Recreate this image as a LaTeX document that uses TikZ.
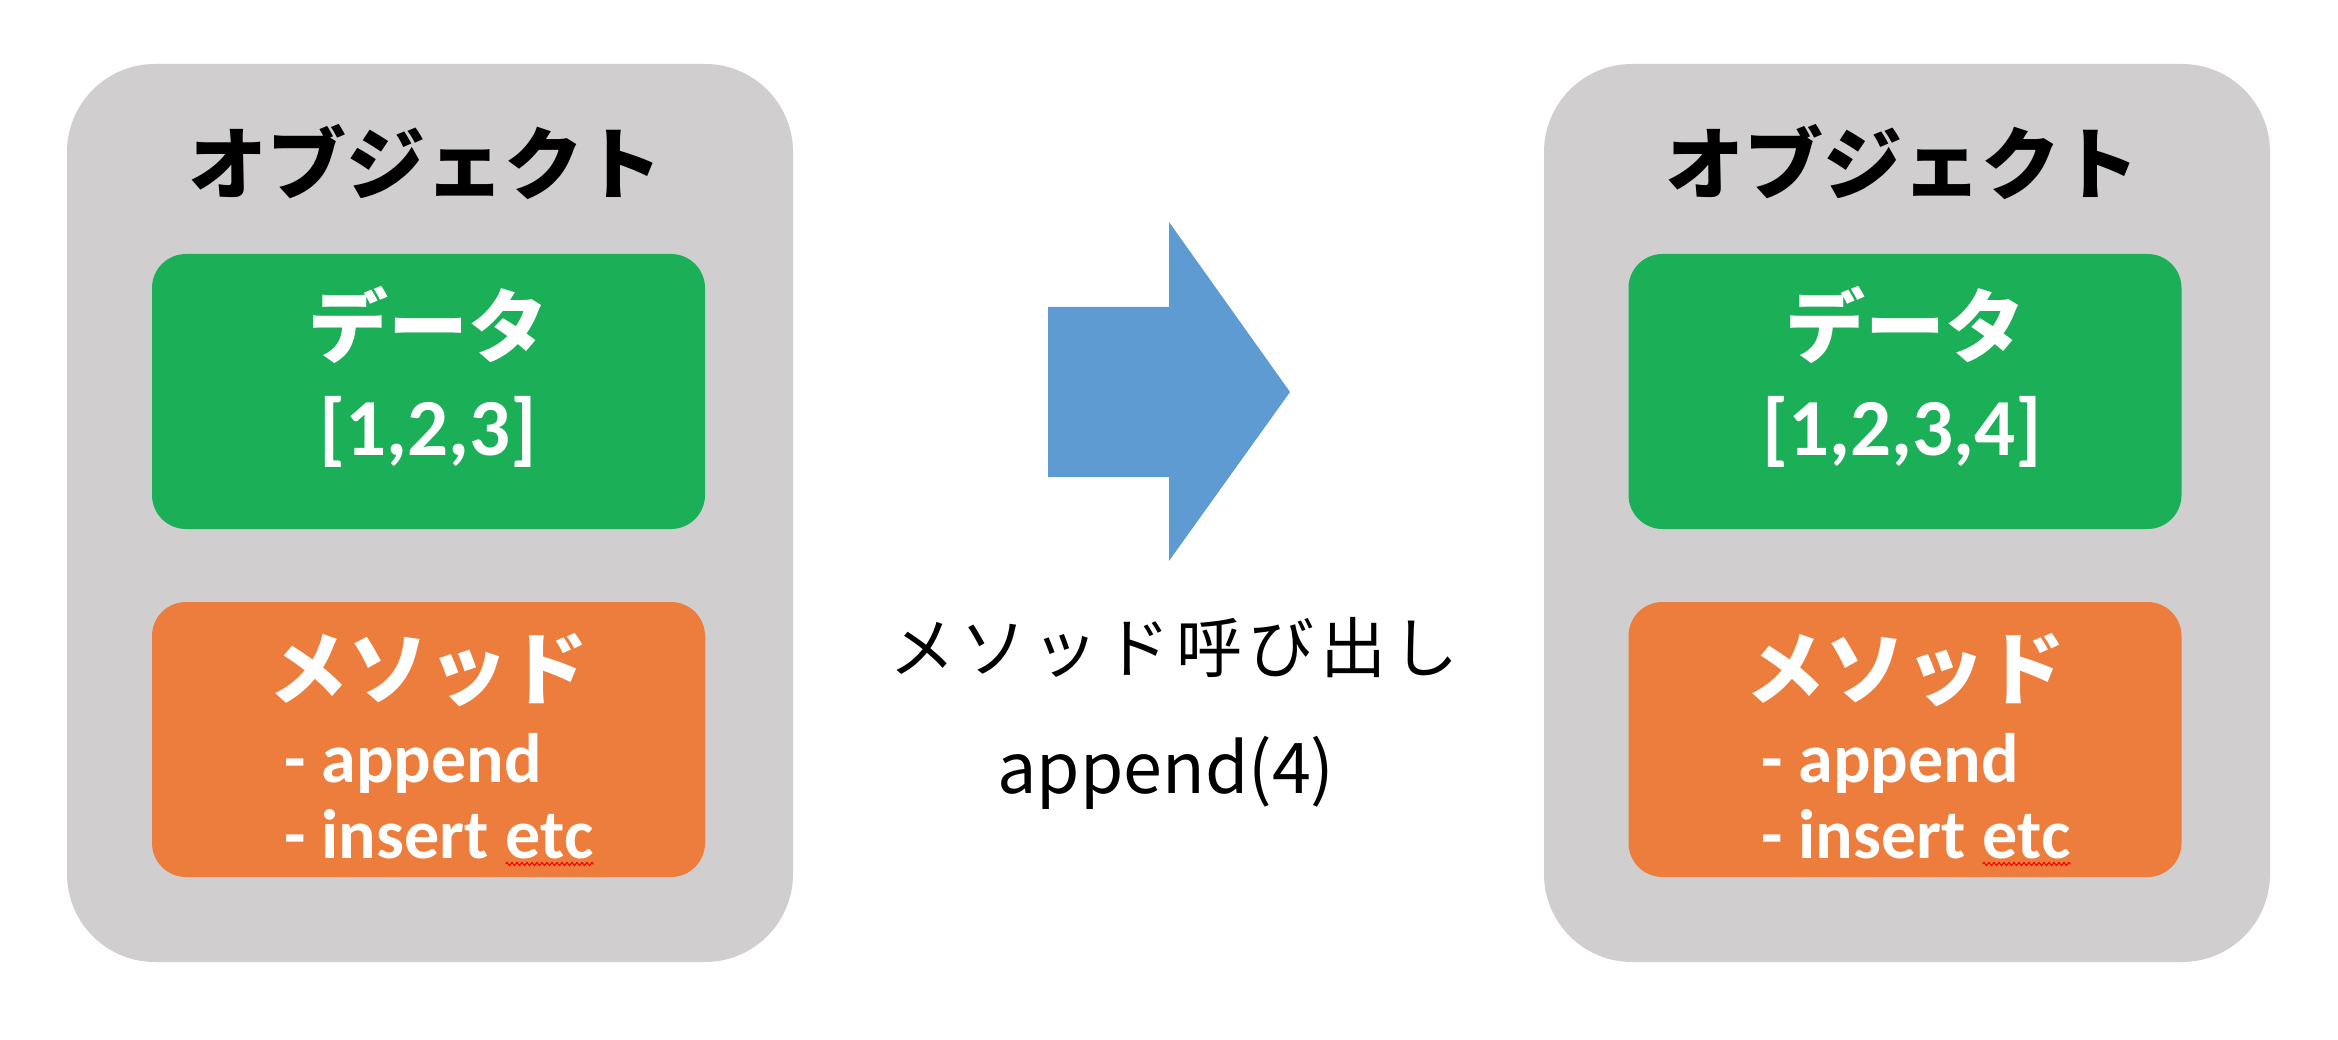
\documentclass[tikz,border=0pt]{standalone}
\usepackage{fontspec}
\usetikzlibrary{decorations.pathmorphing}
\newfontfamily\jpfont{Noto Sans CJK JP}
\newfontfamily\calfont{Carlito}
\definecolor{objgray}{HTML}{D0CECE}
\definecolor{datagreen}{HTML}{1BAF58}
\definecolor{methorange}{HTML}{EC7D3C}
\definecolor{arrowblue}{HTML}{5F9BD3}
\newcommand{\ls}{\hspace{6pt}}
\begin{document}
\begin{tikzpicture}[x=1pt,y=-1pt,
  objbox/.style={fill=objgray, draw=none, rounded corners=88pt, minimum width=726pt, minimum height=898pt, inner sep=0pt},
  databox/.style={fill=datagreen, draw=none, rounded corners=34pt, minimum width=553pt, minimum height=275pt, inner sep=0pt},
  methbox/.style={fill=methorange, draw=none, rounded corners=34pt, minimum width=553pt, minimum height=275pt, inner sep=0pt},
  titletext/.style={inner sep=0pt, anchor=base, text=black, font=\jpfont\bfseries\fontsize{79}{82}\selectfont},
  jpwhite/.style={inner sep=0pt, anchor=base, text=white, font=\jpfont\bfseries\fontsize{80}{82}\selectfont},
  numtext/.style={inner sep=0pt, anchor=base, text=white, font=\calfont\bfseries\fontsize{81}{84}\selectfont},
  itemtext/.style={inner sep=0pt, anchor=base west, text=white, font=\calfont\bfseries\fontsize{70}{72}\selectfont},
  midjp/.style={inner sep=0pt, anchor=base, text=black, font=\jpfont\fontsize{66}{70}\selectfont},
  midlat/.style={inner sep=0pt, anchor=base, text=black, font=\jpfont\fontsize{70}{74}\selectfont},
  squiggle/.style={draw=red, line width=1.1pt, decorate, decoration={zigzag, amplitude=1.6pt, segment length=5pt}}
]
\useasboundingbox (0,0) rectangle (2338,1040);
\fill[white] (0,0) rectangle (2338,1040);

% left object
\node[objbox] (lobj) at (430,513) {};
\node[databox] (ldatabox) at (428.5,391.5) {};
\node[methbox] (lmethbox) at (428.5,739.5) {};
\node[titletext] (ltitle) at (425,194) {オブジェクト};
\node[jpwhite] (ldatalbl) at (428,357) {データ};
\node[numtext] (ldata) at (428,456) {[1,2,3]};
\node[jpwhite] (lmethlbl) at (428,698) {メソッド};
\node[itemtext] (lapp) at (284,782) {- append};
\node[itemtext] (lins) at (284,858) {- insert};
\node[itemtext, anchor=base west, xshift=17pt] (letc) at (lins.base east) {etc};
\draw[squiggle] ([yshift=-6pt]letc.base west) -- ([yshift=-6pt]letc.base east);

% right object
\node[objbox] (robj) at (1907,513) {};
\node[databox] (rdatabox) at (1905,391.5) {};
\node[methbox] (rmethbox) at (1905,739.5) {};
\node[titletext] (rtitle) at (1902,194) {オブジェクト};
\node[jpwhite] (rdatalbl) at (1905,357) {データ};
\node[numtext] (rdata) at (1902,456) {[1,2,3,4]};
\node[jpwhite] (rmethlbl) at (1905,698) {メソッド};
\node[itemtext] (rapp) at (1761,782) {- append};
\node[itemtext] (rins) at (1761,858) {- insert};
\node[itemtext, anchor=base west, xshift=17pt] (retc) at (rins.base east) {etc};
\draw[squiggle] ([yshift=-6pt]retc.base west) -- ([yshift=-6pt]retc.base east);

% block arrow
\fill[arrowblue] (1048,307) -- (1169,307) -- (1169,222) -- (1290,392) -- (1169,561) -- (1169,477) -- (1048,477) -- cycle;

% call label
\node[midjp] (calllbl) at (1174,672) {メ\ls ソ\ls ッ\ls ド\ls 呼\ls び\ls 出\ls し};
\node[midlat] (callarg) at (1166,793) {append(4)};
\end{tikzpicture}
\end{document}
